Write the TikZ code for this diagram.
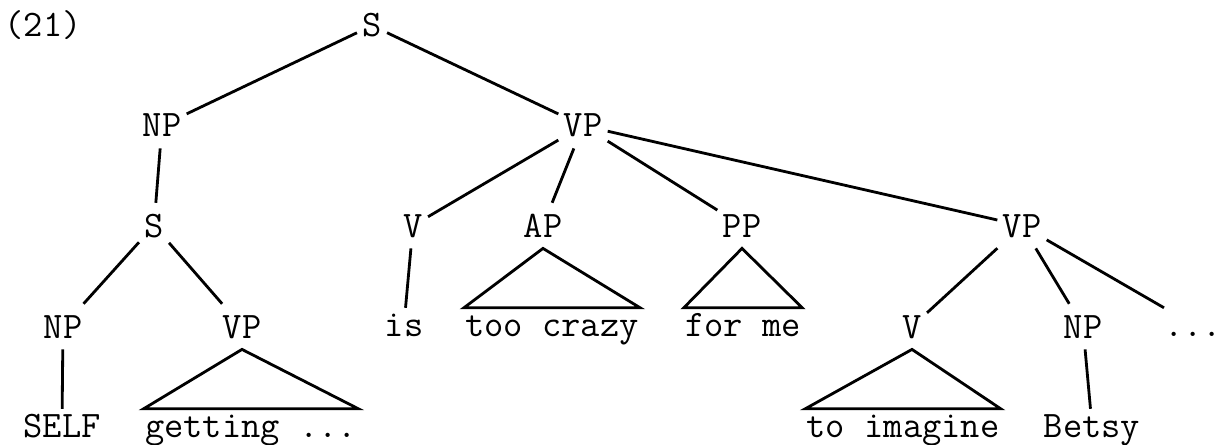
\documentclass[tikz,border=0pt]{standalone}
\usetikzlibrary{positioning}
\newcommand{\tdots}{...}
\begin{document}
\begin{tikzpicture}[x=0.025cm, y=-0.025cm, line width=2pt,
        every node/.style={font=\fontsize{26.6}{32}\selectfont\ttfamily, text height=0.57cm, text depth=0pt, anchor=base},
        cat/.style={inner xsep=0.1cm, inner ysep=0.25cm},
        leaf/.style={inner xsep=0pt, inner ysep=0.1cm}]
        \useasboundingbox (0,0) rectangle (1220,445);
        \node[inner sep=0pt] (EX) at (43,37) {(21)};
        % categories
        \foreach \nm/\x/\y/\txt in {S0/372/37/S, NP1/162/137/NP, VP1/583/137/VP,
                S1/154/237/S, V1/413/237/V, AP/543/237/AP, PP/742/237/PP, VP3/1022/237/VP,
                NP2/63/338/NP, VP2/242/338/VP, V2/912/338/V, NP3/1083/338/NP}{
            \node[cat] (\nm) at (\x,\y) {\txt};
        }
        % words
        \foreach \nm/\x/\y/\txt in {SELF/62/437/SELF, GET/251/437/{getting \tdots}, IS/404/336/is,
                CRAZY/552/336/too crazy, FORME/743/336/for me, DOTS/1193/336/\tdots,
                IMAG/903/437/to imagine, BETSY/1092/437/Betsy}{
            \node[leaf] (\nm) at (\x,\y) {\txt};
        }
        \foreach \a/\b in {S0/NP1, S0/VP1, NP1/S1, S1/NP2, S1/VP2, NP2/SELF,
                VP1/V1, VP1/AP, VP1/PP, VP1/VP3, V1/IS,
                VP3/V2, VP3/NP3, VP3/DOTS, NP3/BETSY}{
            \draw (\a) -- (\b);
        }
        \foreach \a/\b in {VP2/GET, AP/CRAZY, PP/FORME, V2/IMAG}{
            \draw (\a.south) -- (\b.north west) -- (\b.north east) -- cycle;
        }
    \end{tikzpicture}
\end{document}
